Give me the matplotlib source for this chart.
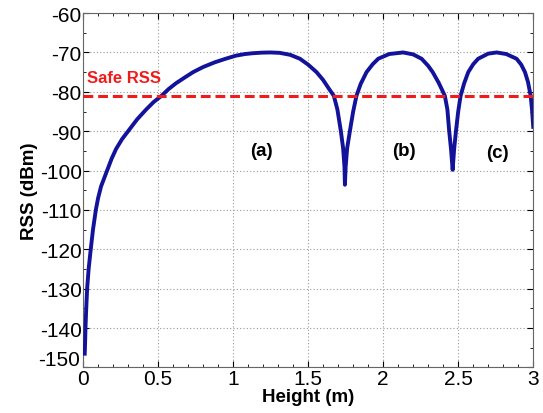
import numpy as np
import matplotlib.pyplot as plt
import matplotlib.transforms as mtransforms
from matplotlib.ticker import MultipleLocator

plt.rcParams['font.family'] = ['Liberation Sans', 'DejaVu Sans']
plt.rcParams['axes.unicode_minus'] = False

# RSS vs antenna height
height = [0.011, 0.014, 0.016, 0.021, 0.027, 0.037, 0.051, 0.066, 0.085, 0.10,
          0.12, 0.16, 0.19, 0.22, 0.26, 0.31, 0.36, 0.42, 0.47, 0.523,
          0.57, 0.62, 0.68, 0.733, 0.80, 0.878, 0.95, 1.02, 1.08, 1.13,
          1.19, 1.25, 1.31, 1.38, 1.445, 1.50, 1.556, 1.60, 1.64, 1.671,
          1.695, 1.718, 1.733, 1.742, 1.745, 1.750, 1.76, 1.778, 1.80, 1.822,
          1.85, 1.889, 1.93, 1.967, 2.04, 2.133, 2.20, 2.256, 2.30, 2.33,
          2.37, 2.411, 2.428, 2.44, 2.452, 2.463, 2.473, 2.485, 2.50, 2.516,
          2.54, 2.567, 2.60, 2.633, 2.70, 2.756, 2.82, 2.889, 2.92, 2.945,
          2.965, 2.983, 2.993, 3.0]
rss = [-146.5, -143, -140, -135, -130, -125, -120, -115, -110, -107,
       -104, -100, -97, -94.5, -92, -89.5, -87, -84.5, -82.6, -81,
       -79.3, -77.8, -76.3, -75, -73.7, -72.5, -71.6, -70.8, -70.4, -70.2,
       -70.05, -70, -70.1, -70.6, -71.6, -73.1, -75, -77, -79.3, -81,
       -84.5, -90, -94.3, -99, -103.6, -99, -94.3, -90, -85, -81,
       -78, -75, -73, -71.6, -70.4, -70, -70.5, -71.6, -73.4, -75,
       -77.7, -81, -84.5, -90, -94.5, -99.8, -94.5, -90, -85, -81,
       -77.8, -75, -73, -71.6, -70.3, -70, -70.4, -71.6, -73.1, -75,
       -77.5, -81, -85, -88.9]

safe_rss = -81
lobe_labels = ['(a)', '(b)', '(c)']
lobe_x = [1.19, 2.14, 2.76]
lobe_y = [-95, -95, -95.5]

fig = plt.figure(figsize=(5.43, 4.14), dpi=100)
ax = fig.add_axes([0.153, 0.11, 0.829, 0.856])

ax.plot(height, rss, color='#12129a', lw=2.8, zorder=3, solid_joinstyle='round')
ax.axhline(safe_rss, color='#ee1c1c', lw=2.2, ls=(0, (3.2, 1.6)), zorder=4)
ax.text(0.025, -78.2, 'Safe RSS', color='#ee1c1c', fontsize=12,
        fontweight='bold', ha='left', va='bottom')
for lab, lx, ly in zip(lobe_labels, lobe_x, lobe_y):
    ax.text(lx, ly, lab, fontsize=13.5, fontweight='bold', ha='center', va='center')

ax.set_xlim(0, 3)
ax.set_ylim(-150, -60)
ax.xaxis.set_major_locator(MultipleLocator(0.5))
ax.xaxis.set_minor_locator(MultipleLocator(0.1))
ax.yaxis.set_major_locator(MultipleLocator(10))
ax.yaxis.set_minor_locator(MultipleLocator(5))
ax.xaxis.set_major_formatter(plt.FuncFormatter(lambda v, p: f'{v:g}'))
ax.tick_params(which='both', direction='in', top=True, right=True, labelsize=15)
ax.tick_params(which='major', length=4, pad=1)
ax.tick_params(which='minor', length=2.5)
ax.grid(True, which='major', ls=(0, (1, 2)), color='#999999', lw=0.8)
for s in ax.spines.values():
    s.set_color('#666666')

ax.set_xlabel('Height (m)', fontsize=13.5, fontweight='bold', labelpad=0)
ax.set_ylabel('RSS (dBm)', fontsize=13.5, fontweight='bold', labelpad=0)

# lift the lowest y label a little so it clears the "0" below, as in the original
fig.canvas.draw()
lift = mtransforms.ScaledTranslation(-1 / 72, 7 / 72, fig.dpi_scale_trans)
for lbl in ax.get_yticklabels():
    if lbl.get_text() == '-150':
        lbl.set_transform(lbl.get_transform() + lift)

fig.savefig('out.png', dpi=100)
